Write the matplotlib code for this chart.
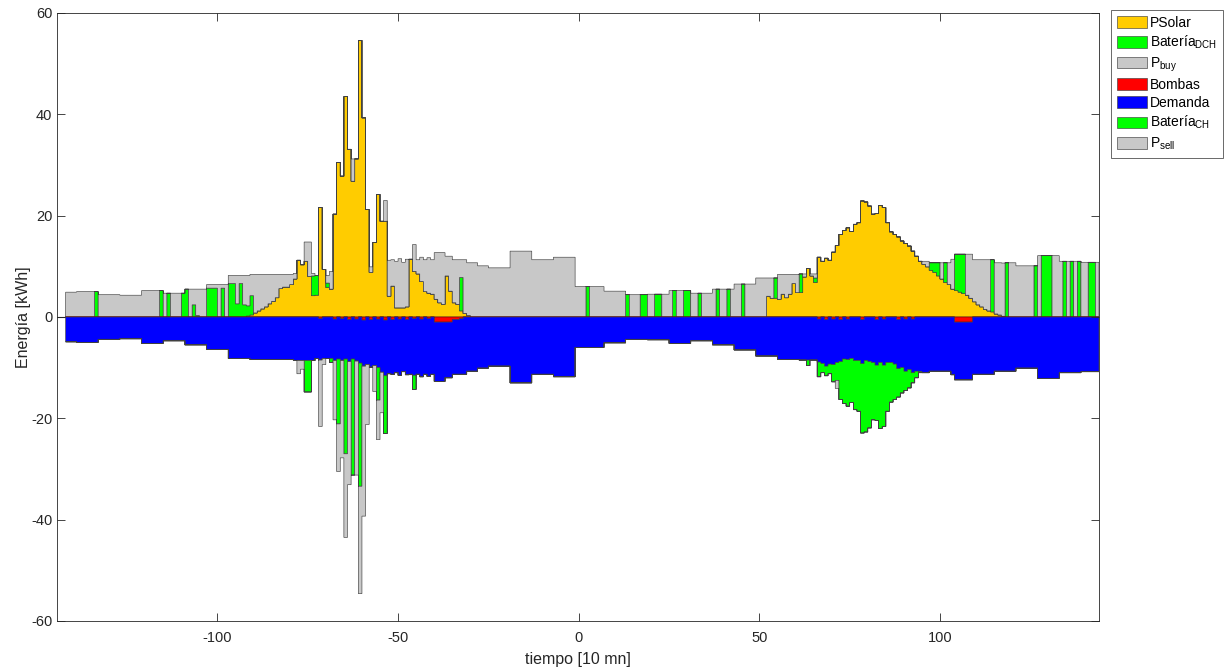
import numpy as np
import matplotlib
matplotlib.use("Agg")
import matplotlib.pyplot as plt
from matplotlib.patches import Patch

plt.rcParams['font.family'] = ['Liberation Sans', 'DejaVu Sans']
plt.rcParams['mathtext.fontset'] = 'custom'
plt.rcParams['mathtext.rm'] = 'Liberation Sans'
plt.rcParams['mathtext.it'] = 'Liberation Sans:italic'
plt.rcParams['axes.unicode_minus'] = False

# one bar per 10 min, first bar at t = -142
t_start = -142

demanda = [
    4.9, 4.9, 4.9,
    5.0, 5.0, 5.0, 5.0, 5.0, 5.0,
    4.4, 4.4, 4.4, 4.4, 4.4, 4.4,
    4.3, 4.3, 4.3, 4.3, 4.3, 4.3,
    5.2, 5.2, 5.2, 5.2, 5.2, 5.2,
    4.7, 4.7, 4.7, 4.7, 4.7, 4.7,
    5.5, 5.5, 5.5, 5.5, 5.5, 5.5,
    6.4, 6.4, 6.4, 6.4, 6.4, 6.4,
    8.2, 8.2, 8.2, 8.2, 8.2, 8.2,
    8.4, 8.4, 8.4, 8.4, 8.4, 8.4,
    8.4, 8.4, 8.4, 8.4, 8.4, 8.4,
    8.6, 8.6, 8.6, 8.6, 8.6, 8.6,
    8.2, 8.2, 8.2, 8.2, 8.2, 8.2,
    8.3, 8.3, 8.3, 8.3, 8.3, 8.3,
    9.1, 9.1, 9.4, 9.4, 9.6, 9.6,
    10.9, 11.0, 11.2, 10.8, 11.0, 11.1,
    10.8, 10.9, 11.3, 11.2, 11.3, 11.4,
    11.3, 11.4, 11.3, 11.7, 11.7, 11.7,
    11.0, 11.0, 10.8, 10.8, 11.0, 11.3,
    10.7, 10.7, 10.7, 10.1, 10.1, 10.1,
    9.7, 9.7, 9.7, 9.7, 9.7, 9.7,
    13.0, 13.0, 13.0, 13.0, 13.0, 13.0,
    11.3, 11.3, 11.3, 11.3, 11.3, 11.3,
    11.8, 11.8, 11.8, 11.8, 11.8, 11.8,
    6.0, 6.0, 6.0, 6.0, 6.0, 6.0, 6.0, 6.0,
    5.1, 5.1, 5.1, 5.1, 5.1, 5.1,
    4.4, 4.4, 4.4, 4.4, 4.4, 4.4,
    4.5, 4.5, 4.5, 4.5, 4.5, 4.5,
    5.2, 5.2, 5.2, 5.2, 5.2, 5.2,
    4.7, 4.7, 4.7, 4.7, 4.7, 4.7,
    5.5, 5.5, 5.5, 5.5, 5.5, 5.5,
    6.5, 6.5, 6.5, 6.5, 6.5, 6.5,
    7.7, 7.7, 7.7, 7.7, 7.7, 7.7,
    8.4, 8.4, 8.4, 8.4, 8.4, 8.4,
    8.5, 8.5, 8.5, 8.5, 8.5, 8.5,
    9.2, 9.2, 9.3, 9.0, 9.0, 8.3,
    8.3, 8.0, 8.2, 8.6, 8.6, 8.7,
    8.6, 8.8, 9.0, 9.0, 9.0, 9.1,
    9.0, 9.0, 9.3, 9.7, 10.0, 10.3,
    10.4, 10.6, 10.7, 10.8, 11.0, 11.0,
    10.7, 10.7, 10.7, 10.7, 10.7, 10.7,
    11.4, 11.4, 11.4, 11.4, 11.4, 11.4,
    11.3, 11.3, 11.3, 11.3, 11.3, 11.3,
    10.7, 10.7, 10.7, 10.7, 10.7, 10.7,
    10.1, 10.1, 10.1, 10.1, 10.1, 10.1,
    12.1, 12.1, 12.1, 12.1, 12.1, 12.1,
    11.0, 11.0, 11.0, 11.0, 11.0, 11.0,
    10.8, 10.8, 10.8, 10.8, 10.8,
]

p_buy = [
    4.9, 4.9, 4.9,
    5.0, 5.0, 5.0, 5.0, 5.0, 0.0,
    4.4, 4.4, 4.4, 4.4, 4.4, 4.4,
    4.3, 4.3, 4.3, 4.3, 4.3, 4.3,
    5.2, 5.2, 5.2, 5.2, 5.2, 0.0,
    4.7, 0.0, 4.7, 4.7, 4.7, 0.0,
    0.0, 5.5, 3.1, 5.2, 5.5, 5.5,
    0.7, 0.7, 0.7, 6.4, 0.7, 6.4,
    1.6, 1.6, 5.6, 1.6, 5.8, 6.0,
    4.2, 7.6, 7.2, 6.8, 6.4, 5.8,
    5.3, 4.6, 2.8, 2.5, 2.5, 2.0,
    1.1, 0.0, 0.0, 3.8, 6.8, 0.5,
    0.0, 0.0, 0.0, 1.5, 3.5, 0.0,
    0.0, 0.0, 0.0, 0.0, 4.4, 0.0,
    0.0, 0.0, 0.0, 1.1, 0.0, 0.0,
    0.0, 4.1, 7.1, 5.2, 9.2, 9.7,
    9.0, 9.4, 0.0, 5.3, 2.8, 4.8,
    6.3, 7.0, 6.8, 9.2, 9.9, 10.2,
    3.9, 6.9, 8.5, 8.8, 3.5, 10.6,
    10.4, 10.7, 10.7, 10.1, 10.1, 10.1,
    9.7, 9.7, 9.7, 9.7, 9.7, 9.7,
    13.0, 13.0, 13.0, 13.0, 13.0, 13.0,
    11.3, 11.3, 11.3, 11.3, 11.3, 11.3,
    11.8, 11.8, 11.8, 11.8, 11.8, 11.8,
    6.0, 6.0, 6.0, 0.0, 6.0, 6.0, 6.0, 6.0,
    5.1, 5.1, 5.1, 5.1, 5.1, 5.1,
    0.0, 4.4, 4.4, 4.4, 0.0, 0.0,
    4.5, 4.5, 0.0, 0.0, 4.5, 4.5,
    5.2, 0.0, 5.2, 5.2, 0.0, 0.0,
    4.7, 4.7, 0.0, 4.7, 4.7, 4.7,
    5.5, 0.0, 5.5, 5.5, 0.0, 5.5,
    6.5, 6.5, 0.0, 6.5, 6.5, 6.5,
    7.7, 7.7, 7.7, 3.6, 4.0, 0.0,
    4.9, 3.9, 4.6, 3.9, 1.8, 3.6,
    0.0, 0.6, 0.0, 0.4, 0.8, 0.0,
    0.0, 0.0, 0.0, 0.0, 0.0, 0.0,
    0.0, 0.0, 0.0, 0.0, 0.0, 0.0,
    0.0, 0.0, 0.0, 0.0, 0.0, 0.0,
    0.0, 0.0, 0.0, 0.0, 0.0, 0.0,
    0.0, 0.0, 0.0, 0.0, 0.6, 1.1,
    0.0, 0.0, 0.0, 3.2, 0.0, 4.3,
    5.9, 0.0, 0.0, 0.0, 8.1, 8.7,
    8.3, 8.9, 9.3, 9.8, 10.1, 0.0,
    10.1, 10.3, 10.5, 0.0, 10.7, 10.7,
    10.1, 10.1, 10.1, 10.1, 10.1, 0.0,
    12.1, 0.0, 0.0, 0.0, 12.1, 12.1,
    11.0, 0.0, 11.0, 0.0, 11.0, 0.0,
    10.8, 10.8, 0.0, 0.0, 10.8,
]

# solar production, morning of each day (contiguous windows)
solar_am_t0 = -92
solar_am = [
    0.2, 0.4, 0.8, 1.2, 1.6, 2.0, 2.6, 3.1, 3.8, 5.6,
    5.9, 5.9, 6.4, 7.5, 11.2, 10.3, 11.0, 8.0, 4.2, 4.3,
    21.6, 9.4, 5.8, 5.5, 20.3, 30.5, 27.8, 43.5, 33.1, 26.8,
    31.2, 54.6, 39.3, 21.2, 8.8, 14.7, 24.2, 18.9, 18.9, 4.1,
    6.1, 1.8, 1.8, 1.8, 2.0, 11.4, 9.0, 8.5, 7.0, 5.0,
    4.7, 4.5, 3.5, 2.8, 2.5, 8.1, 5.1, 2.8, 2.5, 1.2,
    0.7, 0.3,
]
solar_pm_t0 = 52
solar_pm = [
    4.1, 3.7, 3.7, 3.5, 4.5, 3.8, 4.5, 6.6, 4.8, 4.8,
    7.9, 9.6, 8.1, 6.8, 11.8, 11.0, 11.6, 11.2, 12.8, 14.1,
    16.3, 17.1, 17.6, 16.9, 18.3, 18.6, 22.9, 22.7, 21.9, 20.3,
    20.4, 22.0, 21.6, 18.6, 16.8, 16.3, 15.8, 15.0, 14.5, 14.0,
    13.0, 12.0, 11.0, 10.4, 9.9, 9.2, 8.8, 8.1, 7.5, 6.8,
    6.4, 5.5, 5.2, 4.9, 4.6, 4.3, 3.7, 3.0, 2.4, 2.0,
    1.5, 1.2, 1.0, 0.6, 0.4, 0.15,
]

# battery discharge (sparse)
dch_t = [-134, -116, -114, -110, -109, -107, -106, -103, -102, -101, -99,
         -97, -96, -95, -94, -93, -92, -91, -74, -73, -70, -33,
         2, 13, 17, 18, 21, 22, 26, 29, 30, 33, 38, 41, 45, 54, 61, 65,
         97, 98, 99, 101, 104, 105, 106, 114, 118, 126, 128, 129, 130,
         134, 136, 138, 141, 142]
dch_v = [5.0, 5.2, 4.7, 4.7, 5.5, 2.4, 0.3, 5.7, 5.7, 5.7, 5.7,
         6.6, 6.6, 2.6, 6.6, 2.4, 2.0, 3.8, 3.9, 3.9, 0.9, 6.6,
         6.0, 4.4, 4.4, 4.4, 4.5, 4.5, 5.2, 5.2, 5.2, 4.7, 5.5, 5.5, 6.5, 4.0, 3.7, 0.9,
         1.5, 1.9, 2.6, 3.9, 7.2, 7.5, 7.8, 10.3, 10.7, 10.1, 12.1, 12.1, 12.1,
         11.0, 11.0, 11.0, 10.8, 10.8]

# pumps (sparse)
bombas_t = [-72, -68, -66, -64, -62, -60, -58, -56, -54, -52, -50, -48, -46,
            -44, -42, -40, -39, -38, -37, -36, -35, -34, -33,
            66, 68, 70, 72, 74, 78, 82, 84, 88, 90, 92, 104, 105, 106, 107, 108]
bombas_v = [0.3, 0.4, 0.3, 0.5, 0.4, 0.6, 0.5, 0.4, 0.6, 0.5, 0.4, 0.5, 0.3,
            0.4, 0.3, 1.0, 1.0, 1.0, 1.0, 1.0, 0.5, 0.5, 0.3,
            0.4, 0.5, 0.4, 0.5, 0.4, 0.5, 0.5, 0.4, 0.5, 0.4, 0.4, 1.0, 1.0, 1.0, 1.0, 1.0]

# battery charge: sparse morning bars + afternoon window
ch_t = [-76, -75, -69, -67, -65, -63, -61, -56, -54, -46, 63]
ch_v = [6.2, 6.2, 0.8, 12.8, 18.7, 22.9, 24.3, 6.4, 11.4, 2.8, 1.1]
ch_pm_t0 = 66
ch_pm = [2.9, 1.8, 1.9, 1.9, 3.4, 3.5, 7.5, 8.8, 9.2, 8.7,
         9.7, 10.0, 13.7, 14.1, 13.1, 11.3, 10.9, 13.0, 12.1, 9.6,
         7.8, 7.0, 5.6, 5.0, 3.8, 3.6, 2.0, 1.3, 0.2]

# grid sale (sparse)
sell_t = [-78, -77, -72, -71, -68, -67, -66, -65, -64, -62, -61, -60, -59,
          -57, -56, -55, -47, 71]
sell_v = [2.6, 1.7, 13.1, 1.2, 11.7, 9.4, 19.2, 16.5, 24.3, 22.5, 21.2, 29.6, 11.8,
          5.1, 7.8, 8.0, 0.1, 1.6]

n = len(demanda)
edges = np.arange(t_start, t_start + n + 1)


def sparse(ts, vs):
    out = np.zeros(n)
    out[np.asarray(ts) - t_start] = vs
    return out


def window(t0, vs):
    out = np.zeros(n)
    out[t0 - t_start:t0 - t_start + len(vs)] = vs
    return out


p_solar = window(solar_am_t0, solar_am) + window(solar_pm_t0, solar_pm)
bat_dch = sparse(dch_t, dch_v)
bombas = sparse(bombas_t, bombas_v)
bat_ch = sparse(ch_t, ch_v) + window(ch_pm_t0, ch_pm)
p_sell = sparse(sell_t, sell_v)

EC = '#404040'
LW = 0.45
c_solar, c_bat, c_grid, c_pump, c_dem = '#FFCC00', '#00FF00', '#C8C8C8', '#FF0000', '#0000FF'

fig = plt.figure(figsize=(12.28, 6.71), dpi=100)
ax = fig.add_axes([57 / 1228, 50 / 671, 1042 / 1228, 608 / 671])

ax.axhline(0, color='#262626', lw=0.8, zorder=0)

base = np.zeros(n)
for vals, col in [(p_solar, c_solar), (bat_dch, c_bat), (np.asarray(p_buy), c_grid)]:
    top = base + vals
    ax.stairs(top, edges, baseline=base, fill=True, facecolor=col,
              edgecolor=EC, linewidth=LW)
    base = top

base = np.zeros(n)
for vals, col, ec in [(bombas, c_pump, '#700000'), (np.asarray(demanda), c_dem, EC),
                      (bat_ch, c_bat, EC), (p_sell, c_grid, EC)]:
    top = base - vals
    ax.stairs(top, edges, baseline=base, fill=True, facecolor=col,
              edgecolor=ec, linewidth=LW)
    base = top

ax.set_xlim(-144.4, 144)
ax.set_ylim(-60, 60)
ax.set_xticks([-100, -50, 0, 50, 100])
ax.set_yticks([-60, -40, -20, 0, 20, 40, 60])
ax.tick_params(direction='in', length=6, width=0.6, colors='#262626',
               labelsize=10.5, top=True, right=True)
ax.tick_params(axis='x', pad=7)
for s in ax.spines.values():
    s.set_color('#262626')
    s.set_linewidth(0.6)

ax.set_xlabel('tiempo [10 mn]', fontsize=11.5, color='#262626', labelpad=5)
ax.set_ylabel('Energía [kWh]', fontsize=11.5, color='#262626', labelpad=0)

labels = ['PSolar', 'Batería$_{\\mathregular{DCH}}$', 'P$_{\\mathregular{buy}}$', 'Bombas',
          'Demanda', 'Batería$_{\\mathregular{CH}}$', 'P$_{\\mathregular{sell}}$']
colors = [c_solar, c_bat, c_grid, c_pump, c_dem, c_bat, c_grid]
handles = [Patch(facecolor=c, edgecolor=EC, linewidth=LW) for c in colors]
leg = fig.legend(handles, labels, loc='upper left',
                 bbox_to_anchor=(1111 / 1228, 1 - 10 / 671),
                 fontsize=10, frameon=True, fancybox=False,
                 handlelength=2.2, handleheight=0.9, handletextpad=0.2,
                 labelspacing=0.3, borderpad=0.4, borderaxespad=0)
leg.get_frame().set_edgecolor('#262626')
leg.get_frame().set_linewidth(0.6)

fig.savefig('out.png', dpi=100)
